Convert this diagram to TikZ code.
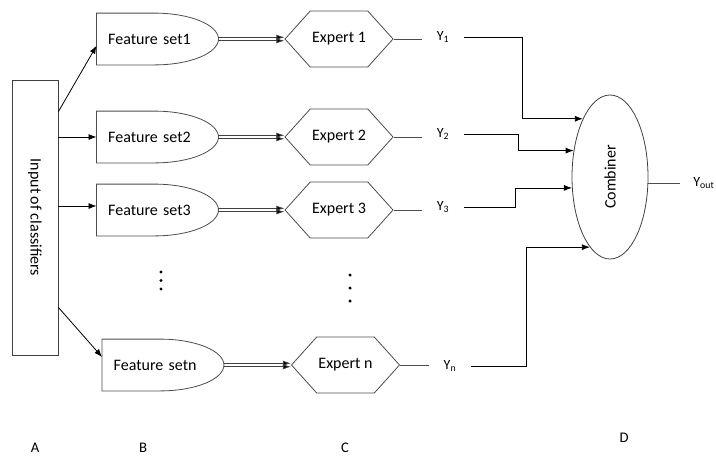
\documentclass[tikz,border=0pt]{standalone}
\usepackage{fontspec}
\setmainfont{Carlito}
\usetikzlibrary{calc}
\usetikzlibrary{shapes}
\usetikzlibrary{arrows.meta}

\begin{document}
\begin{tikzpicture}[%
x=.75pt, y=-.75pt,
>={Latex[length=6pt,width=4.5pt]},
line width=.6pt,
font=\fontsize{12}{14}\selectfont,
input/.style={draw=black!75, minimum width=34.5pt, minimum height=206.25pt, inner sep=0pt},
featureset/.style={text width=74pt, align=left, inner xsep=8.4pt, minimum height=38.25pt},
expert/.style={signal, signal to=west and east, signal pointer angle=96, draw=black!70, minimum width=81pt, minimum height=42pt, inner sep=1pt},
combiner/.style={ellipse, draw=black!75, minimum width=57pt, minimum height=123pt, inner sep=0pt},
output/.style={inner xsep=10.5pt, font=\fontsize{10.5}{12}\selectfont},
outline/.style={draw=black!70},
feed/.style={->, draw=black},
pair/.style={-{Latex[length=6pt,width=4pt,fill=black]}, draw=black!75},
wire/.style={draw=black!70},
letter/.style={font=\fontsize{11}{13}\selectfont},
]

\useasboundingbox (0,0) rectangle (716,455);

\node[input](inp) at (35,217.5){\rotatebox{-90}{Input of classifiers}};

\node[featureset](fs1) at (157.5,39){Feature set1};
\node[featureset](fs2) at (157.5,137){Feature set2};
\node[featureset](fs3) at (157.5,210){Feature set3};
\node[featureset](fsn) at (163,365){Feature setn};

\foreach \f in {fs1,fs2,fs3,fsn}
  \draw[outline] (\f.north west) -- ($(\f.north west)+(58,0)$)
    .. controls ($(\f.north east)+(-28,0)$) and ($(\f.east)+(0,-14)$) .. (\f.east)
    .. controls ($(\f.east)+(0,14)$) and ($(\f.south east)+(-28,0)$) .. ($(\f.south west)+(58,0)$)
    -- (\f.south west) -- cycle;

\node[expert](ex1) at (339,39){Expert 1};
\node[expert](ex2) at (339,137){Expert 2};
\node[expert](ex3) at (339,210){Expert 3};
\node[expert](exn) at (345.5,365){Expert n};

\node[output](y1) at (443,37){Y\textsubscript{1}};
\node[output](y2) at (443,134){Y\textsubscript{2}};
\node[output](y3) at (443,207){Y\textsubscript{3}};
\node[output](yn) at (450,366){Y\textsubscript{n}};

\node[combiner](comb) at (610,177){\rotatebox{90}{Combiner}};
\node[output, anchor=west, inner xsep=0pt](yout) at (693,183){Y\textsubscript{out}};

% input to feature sets
\draw[feed] (inp.north east) ++(0,32) -- ([yshift=-5pt]fs1.west);
\draw[feed] (fs2.west -| inp.east) -- (fs2.west);
\coordinate (a3) at ([yshift=3pt]fs3.west);
\draw[feed] (a3 -| inp.east) -- (a3);
\draw[feed] (inp.south east) ++(0,-48) -- ([yshift=6pt]fsn.west);

% feature sets to experts
\foreach \i in {1,2,3,n}{
  \draw[pair] ([yshift=1.3pt]fs\i.east) -- ([yshift=1.3pt]ex\i.west);
  \draw[pair] ([yshift=-1.3pt]fs\i.east) -- ([yshift=-1.3pt]ex\i.west);
}

% experts to outputs
\draw[wire] (ex1.east) -- (ex1.east -| y1.west);
\draw[wire] (ex2.east) -- (ex2.east -| y2.west);
\draw[wire] (ex3.east) -- (ex3.east -| y3.west);
\draw[wire] (exn.east) -- (exn.east -| yn.west);

% outputs to combiner
\draw[feed] (y1.east) -- ++(59,0) |- (comb.115);
\draw[feed] (y2.east) -- ++(55,0) |- (comb.144);
\draw[feed] (y3.east) -- ++(52,0) |- (comb.196);
\draw[feed] (yn.east) -- ++(56,0) |- (comb.254);

\draw[wire] (comb.351) -- ++(32,0);

\foreach \y in {272,280.5,289} \fill (161,\y) circle (1.2pt);
\foreach \y in {275,288,301} \fill (350,\y) circle (1.3pt);

\node[letter](la) at (35,448){A};
\node[letter](lb) at (143,448){B};
\node[letter](lc) at (345,448){C};
\node[letter](ld) at (624,438){D};

\end{tikzpicture}
\end{document}
